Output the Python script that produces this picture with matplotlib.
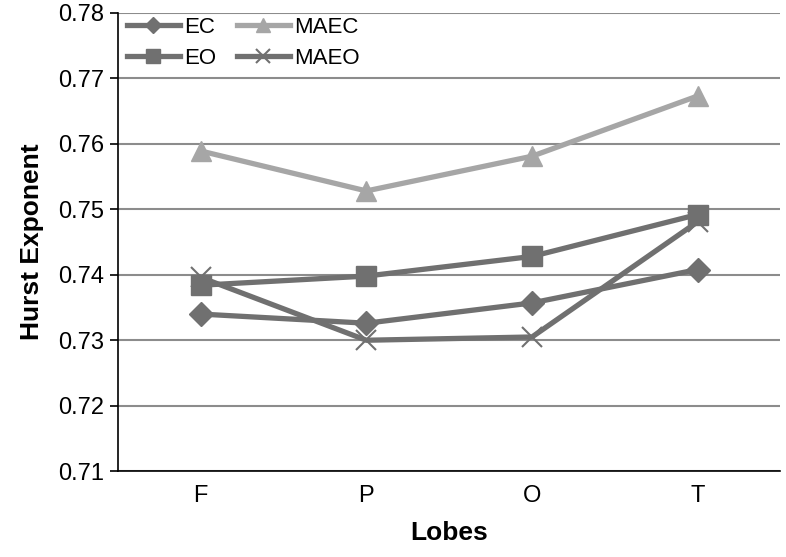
import matplotlib.pyplot as plt
import numpy as np

plt.rcParams['font.family'] = ['Liberation Sans', 'DejaVu Sans']

# data
lobes = ['F', 'P', 'O', 'T']
ec = [0.7340, 0.7326, 0.7357, 0.7408]
eo = [0.7384, 0.7398, 0.7428, 0.7492]
maec = [0.7589, 0.7528, 0.7581, 0.7673]
maeo = [0.7396, 0.7300, 0.7305, 0.7481]

dark = '#707070'
light = '#a6a6a6'

fig = plt.figure(figsize=(7.86, 5.57), dpi=100)
ax = fig.add_axes([0.150, 0.154, 0.843, 0.823])

x = np.arange(len(lobes))
ax.plot(x, ec, color=dark, lw=3.8, marker='D', ms=12, label='EC')
ax.plot(x, eo, color=dark, lw=3.8, marker='s', ms=15, label='EO')
ax.plot(x, maec, color=light, lw=3.8, marker='^', ms=15, label='MAEC')
ax.plot(x, maeo, color=dark, lw=3.8, marker='x', ms=15, mew=1.5, label='MAEO')

ax.set_xlim(-0.5, 3.5)
ax.set_ylim(0.71, 0.78)
ax.set_yticks(np.arange(0.71, 0.7801, 0.01))
ax.yaxis.set_major_formatter(plt.FormatStrFormatter('%.2f'))
ax.set_xticks(x)
ax.set_xticklabels(lobes)
ax.grid(axis='y', color='#8c8c8c', lw=1.5)
ax.set_axisbelow(True)

for s in ['top', 'right']:
    ax.spines[s].set_visible(False)
ax.spines['left'].set_linewidth(1.2)
ax.spines['bottom'].set_linewidth(1.2)
ax.tick_params(axis='y', labelsize=17, length=6, width=1.2, pad=4)
ax.tick_params(axis='x', labelsize=17, length=0, pad=10)

ax.set_xlabel('Lobes', fontsize=19, fontweight='bold', labelpad=10)
ax.set_ylabel('Hurst Exponent', fontsize=19, fontweight='bold', labelpad=10)

ax.legend(ncol=2, loc='upper left', bbox_to_anchor=(0.0, 1.01), frameon=False,
          fontsize=16, handlelength=2.4, columnspacing=0.9, handletextpad=0.2,
          borderaxespad=0.0, labelspacing=0.45, markerscale=0.7)

fig.savefig('out.png', dpi=100)
